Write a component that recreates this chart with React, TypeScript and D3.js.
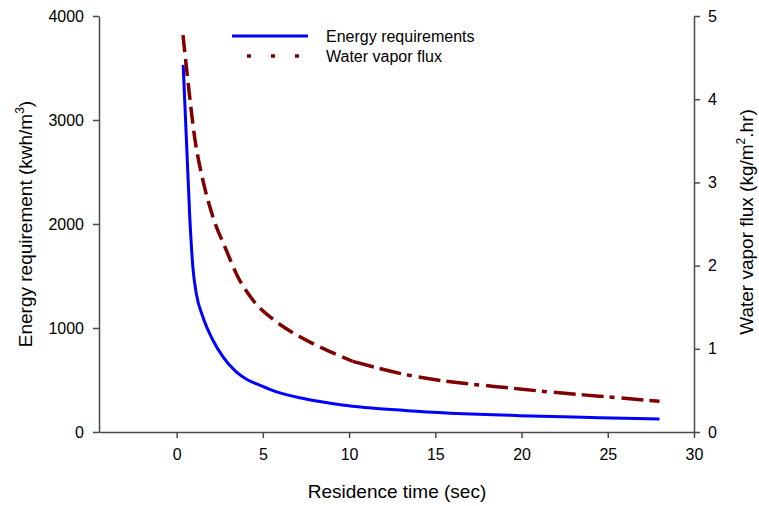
import React, { useEffect, useRef } from "react";
import * as d3 from "d3";

const energyTime = [0.38, 0.77, 0.94, 1.14, 1.52, 2.1, 2.68, 3.44, 4.13, 4.79, 5.75, 7.29, 9.6, 13.4, 19.9, 24.5, 28];
const energyValues = [3530, 2040, 1590, 1333, 1109, 885, 724, 580, 500, 452, 388, 324, 260, 205, 157, 138, 125];

const fluxTime = [0.37, 0.65, 1.04, 1.52, 2.1, 2.87, 3.54, 4.41, 5.75, 7.1, 8.64, 10.2, 12.94, 19.9, 24.5, 28];
const fluxValues = [4.77, 4.23, 3.55, 3.03, 2.59, 2.19, 1.87, 1.59, 1.33, 1.15, 0.99, 0.85, 0.705, 0.517, 0.43, 0.37];

const xTicks = [0, 5, 10, 15, 20, 25, 30];
const energyTicks = [0, 1000, 2000, 3000, 4000];
const fluxTicks = [0, 1, 2, 3, 4, 5];

const seriesNames = ["Energy requirements", "Water vapor flux"];

const W = 759;
const H = 506;
const FONT = "'Liberation Sans', Arial, sans-serif";

export default function App() {
  const ref = useRef<SVGSVGElement | null>(null);

  useEffect(() => {
    const svg = d3.select(ref.current);
    svg.selectAll("*").remove();

    const x = d3.scaleLinear().domain([-4.5, 30]).range([99, 694]);
    const yL = d3.scaleLinear().domain([0, 4000]).range([432, 16]);
    const yR = d3.scaleLinear().domain([0, 5]).range([432, 16]);

    const axisColor = "#4a4a4a";

    const styleAxis = (g: any) => {
      g.selectAll(".domain").attr("stroke", axisColor).attr("stroke-width", 1.5);
      g.selectAll(".tick line").attr("stroke", axisColor).attr("stroke-width", 1.5);
      g.selectAll(".tick text").attr("fill", "#000").style("font-family", FONT).style("font-size", "16px");
    };

    const gx = svg
      .append("g")
      .attr("transform", "translate(0,432)")
      .call(d3.axisBottom(x).tickValues(xTicks).tickSize(6).tickSizeOuter(0).tickPadding(11).tickFormat(d3.format("d")));
    styleAxis(gx);

    const gl = svg
      .append("g")
      .attr("transform", "translate(99,0)")
      .call(d3.axisLeft(yL).tickValues(energyTicks).tickSize(6).tickSizeOuter(0).tickPadding(9).tickFormat(d3.format("d")));
    styleAxis(gl);

    const gr = svg
      .append("g")
      .attr("transform", "translate(694,0)")
      .call(d3.axisRight(yR).tickValues(fluxTicks).tickSize(6).tickSizeOuter(0).tickPadding(8).tickFormat(d3.format("d")));
    styleAxis(gr);

    // Energy line
    const energyData = energyTime.map((t, i) => [t, energyValues[i]] as [number, number]);
    const lineE = d3
      .line<[number, number]>()
      .x((d) => x(d[0]))
      .y((d) => yL(d[1]))
      .curve(d3.curveMonotoneX);
    svg
      .append("path")
      .attr("d", lineE(energyData))
      .attr("fill", "none")
      .attr("stroke", "#0000ff")
      .attr("stroke-width", 3);

    // Flux line (two dash styles)
    const fluxData = fluxTime.map((t, i) => [t, fluxValues[i]] as [number, number]);
    const lineF = d3
      .line<[number, number]>()
      .x((d) => x(d[0]))
      .y((d) => yR(d[1]))
      .curve(d3.curveMonotoneX);
    const splitAt = 11;
    const first = fluxData.filter((d) => d[0] <= splitAt);
    const second = fluxData.filter((d) => d[0] >= fluxData.filter((e) => e[0] <= splitAt).slice(-1)[0][0]);
    svg
      .append("path")
      .attr("d", lineF(first))
      .attr("fill", "none")
      .attr("stroke", "#800000")
      .attr("stroke-width", 3.5)
      .attr("stroke-dasharray", "17,7");
    svg
      .append("path")
      .attr("d", lineF(second))
      .attr("fill", "none")
      .attr("stroke", "#800000")
      .attr("stroke-width", 3.5)
      .attr("stroke-dasharray", "22,6,22,6,5,7");

    // Legend
    svg.append("line").attr("x1", 232).attr("x2", 308).attr("y1", 36).attr("y2", 36)
      .attr("stroke", "#0000ff").attr("stroke-width", 3);
    svg.append("line").attr("x1", 247).attr("x2", 301).attr("y1", 56).attr("y2", 56)
      .attr("stroke", "#800000").attr("stroke-width", 3.5).attr("stroke-dasharray", "4,20");
    svg.append("text").attr("x", 326).attr("y", 42).text(seriesNames[0])
      .style("font-family", FONT).style("font-size", "16px").attr("fill", "#000");
    svg.append("text").attr("x", 326).attr("y", 62).text(seriesNames[1])
      .style("font-family", FONT).style("font-size", "16px").attr("fill", "#000");

    // Axis titles
    svg.append("text").attr("x", 397).attr("y", 498).attr("text-anchor", "middle")
      .style("font-family", FONT).style("font-size", "19px").attr("fill", "#000")
      .text("Residence time (sec)");

    const lt = svg.append("text").attr("transform", "translate(32,224) rotate(-90)").attr("text-anchor", "middle")
      .style("font-family", FONT).style("font-size", "19px").attr("fill", "#000");
    lt.append("tspan").text("Energy requirement (kwh/m");
    lt.append("tspan").attr("dy", -8).style("font-size", "12px").text("3");
    lt.append("tspan").attr("dy", 8).text(")");

    const rt = svg.append("text").attr("transform", "translate(753,222) rotate(-90)").attr("text-anchor", "middle")
      .style("font-family", FONT).style("font-size", "19px").attr("fill", "#000");
    rt.append("tspan").text("Water vapor flux (kg/m");
    rt.append("tspan").attr("dy", -8).style("font-size", "12px").text("2");
    rt.append("tspan").attr("dy", 8).text(".hr)");
  }, []);

  return (
    <svg
      ref={ref}
      width={W}
      height={H}
      style={{ position: "absolute", left: 0, top: 0, background: "#fff" }}
    />
  );
}
